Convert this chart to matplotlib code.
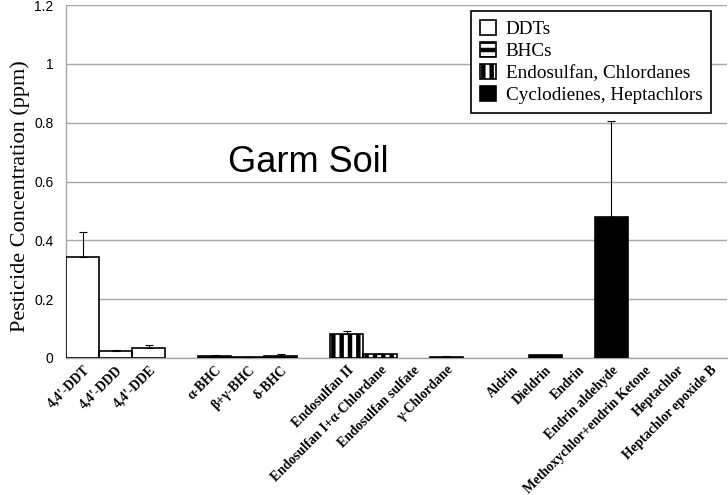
import matplotlib.pyplot as plt
from matplotlib.patches import Patch
import numpy as np

plt.rcParams['hatch.linewidth'] = 2.8

# categories (blank strings are the gaps between groups)
labels = ["4,4'-DDT", "4,4'-DDD", "4,4'-DDE", "",
          "α-BHC", "β+γ-BHC", "δ-BHC", "",
          "Endosulfan II", "Endosulfan I+α-Chlordane", "Endosulfan sulfate", "γ-Chlordane", "",
          "Aldrin", "Dieldrin", "Endrin", "Endrin aldehyde", "Methoxychlor+endrin Ketone",
          "Heptachlor", "Heptachlor epoxide B"]

ddt_vals = [0.345, 0.025, 0.033]
ddt_err = [0.085, 0.002, 0.012]
bhc_vals = [0.007, 0.003, 0.008]
bhc_err = [0.002, 0.001, 0.004]
endo_vals = [0.082, 0.012, 0.0, 0.005]
endo_err = [0.010, 0.003, 0.0, 0.001]
cyc_vals = [0.0, 0.010, 0.0, 0.48, 0.0, 0.0, 0.0]
cyc_err = [0.0, 0.001, 0.0, 0.325, 0.0, 0.0, 0.0]

series = [
    ("DDTs", 0, ddt_vals, ddt_err, dict(facecolor="white", edgecolor="black", hatch=None)),
    ("BHCs", 4, bhc_vals, bhc_err, dict(facecolor="black", edgecolor="white", hatch="--")),
    ("Endosulfan, Chlordanes", 8, endo_vals, endo_err, dict(facecolor="black", edgecolor="white", hatch="||")),
    ("Cyclodienes, Heptachlors", 13, cyc_vals, cyc_err, dict(facecolor="black", edgecolor="black", hatch=None)),
]

fig = plt.figure(figsize=(7.28, 4.95), dpi=100)
ax = fig.add_axes([0.0907, 0.2768, 0.908, 0.713])

handles = []
names = []
for name, start, vals, err, style in series:
    vals = np.array(vals)
    err = np.array(err)
    x = np.arange(start, start + len(vals))
    keep = vals > 0
    ax.bar(x[keep], vals[keep], width=1.0, linewidth=0, zorder=3, **style)
    ax.bar(x[keep], vals[keep], width=1.0, fill=False, edgecolor="black",
           linewidth=1.2, zorder=3)
    ax.errorbar(x[keep], vals[keep], yerr=[np.zeros(keep.sum()), err[keep]], fmt="none",
                ecolor="black", elinewidth=0.8, capsize=3, capthick=0.8, zorder=4)
    handles.append((Patch(linewidth=0, **style),
                    Patch(fill=False, edgecolor="black", linewidth=1.2)))
    names.append(name)

ax.set_xlim(-0.5, len(labels) - 0.5)
ax.set_ylim(0, 1.2)
ax.set_yticks(np.arange(0, 1.21, 0.2))
ax.set_yticklabels(["0", "0.2", "0.4", "0.6", "0.8", "1", "1.2"],
                   fontfamily="Liberation Sans", fontsize=10)
ax.tick_params(axis="y", length=0, pad=9)
ax.tick_params(axis="x", length=0, pad=4)
ax.yaxis.grid(True, color="#a6a6a6", linewidth=1.0, zorder=0)
ax.set_axisbelow(True)

ax.set_xticks(np.arange(len(labels)))
ax.set_xticklabels(labels, rotation=45, ha="right", va="top", rotation_mode="anchor",
                   fontfamily="Liberation Serif", fontweight="bold", fontsize=9.8)

for s in ["top", "right"]:
    ax.spines[s].set_visible(False)
for s in ["left", "bottom"]:
    ax.spines[s].set_color("#a6a6a6")
    ax.spines[s].set_linewidth(1.0)

ax.set_ylabel("Pesticide Concentration (ppm)", fontfamily="Liberation Serif",
              fontsize=16)
ax.yaxis.set_label_coords(-0.054, 0.459)

ax.text(0.366, 0.555, "Garm Soil", transform=ax.transAxes, ha="center", va="center",
        fontfamily="Liberation Sans", fontsize=26)

leg = ax.legend(handles, names, loc="upper right", bbox_to_anchor=(0.976, 0.983),
                borderaxespad=0,
                prop={"family": "Liberation Serif", "size": 13.8},
                frameon=True, fancybox=False, edgecolor="black", framealpha=1,
                handlelength=0.85, handleheight=0.85, handletextpad=0.5,
                labelspacing=0.2, borderpad=0.45)
leg.get_frame().set_linewidth(1.2)

fig.savefig("out.png", dpi=100)
